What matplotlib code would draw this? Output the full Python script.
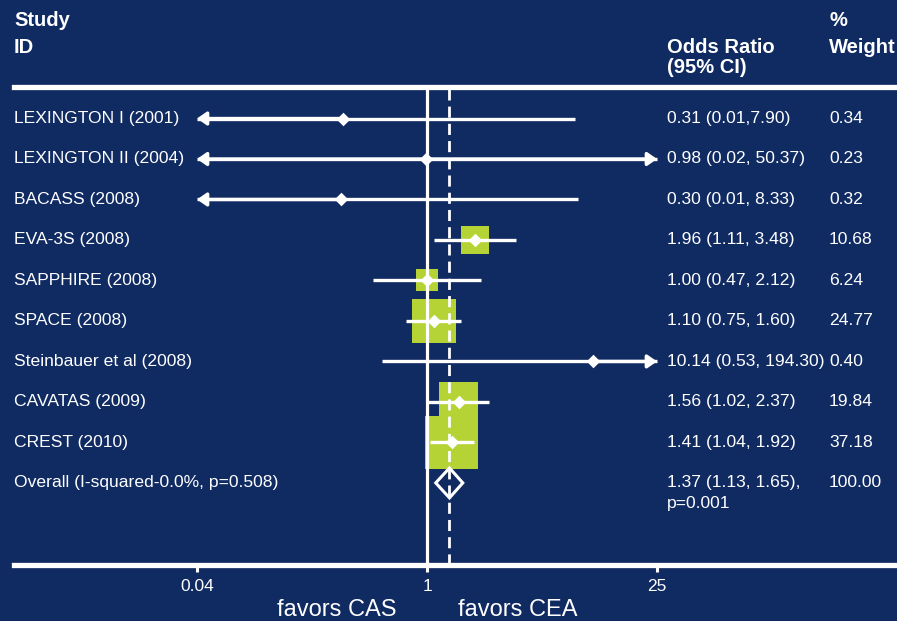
import numpy as np
import matplotlib
matplotlib.use("Agg")
import matplotlib.pyplot as plt
from matplotlib.patches import Polygon
from matplotlib.ticker import NullLocator
from matplotlib.transforms import blended_transform_factory

plt.rcParams["font.family"] = ["Liberation Sans", "DejaVu Sans"]

# ---- data ---------------------------------------------------------------
studies = ["LEXINGTON I (2001)", "LEXINGTON II (2004)", "BACASS (2008)",
           "EVA-3S (2008)", "SAPPHIRE (2008)", "SPACE (2008)",
           "Steinbauer et al (2008)", "CAVATAS (2009)", "CREST (2010)"]
odds_ratio = [0.31, 0.98, 0.30, 1.96, 1.00, 1.10, 10.14, 1.56, 1.41]
ci_low = [0.01, 0.02, 0.01, 1.11, 0.47, 0.75, 0.53, 1.02, 1.04]
ci_high = [7.90, 50.37, 8.33, 3.48, 2.12, 1.60, 194.30, 2.37, 1.92]
weights = [0.34, 0.23, 0.32, 10.68, 6.24, 24.77, 0.40, 19.84, 37.18]
ci_text = ["0.31 (0.01,7.90)", "0.98 (0.02, 50.37)", "0.30 (0.01, 8.33)",
           "1.96 (1.11, 3.48)", "1.00 (0.47, 2.12)", "1.10 (0.75, 1.60)",
           "10.14 (0.53, 194.30)", "1.56 (1.02, 2.37)", "1.41 (1.04, 1.92)"]
weight_text = ["0.34", "0.23", "0.32", "10.68", "6.24", "24.77",
               "0.40", "19.84", "37.18"]

overall_label = "Overall (I-squared-0.0%, p=0.508)"
overall_or, overall_lo, overall_hi = 1.37, 1.13, 1.65
overall_ci_text = "1.37 (1.13, 1.65),"
overall_p_text = "p=0.001"
overall_weight = "100.00"

x_ticks = [0.04, 1, 25]
x_tick_labels = ["0.04", "1", "25"]

# ---- style --------------------------------------------------------------
BG = "#102a62"
GREEN = "#b5d334"
WHITE = "white"
W, H = 897, 621

fig = plt.figure(figsize=(W / 100, H / 100), dpi=100, facecolor=BG)

# plot band between the header rule (y=87px) and the axis rule (y=565px)
top_px, bot_px, left_px = 87, 565, 14
ax = fig.add_axes([left_px / W, (H - bot_px) / H, (W - left_px) / W,
                   (bot_px - top_px) / H])
ax.set_facecolor(BG)
ax.set_xscale("log")
px_per_decade = 164.53
x_one_px = 427
ax.set_xlim(10 ** ((left_px - x_one_px) / px_per_decade),
            10 ** ((W - x_one_px) / px_per_decade))

row_spacing = 40.49
first_row_px = 118.5
ax.set_ylim((bot_px - first_row_px) / row_spacing,
            (top_px - first_row_px) / row_spacing)

rows = np.arange(len(studies))
overall_row = len(studies)
clip_lo, clip_hi = x_ticks[0], x_ticks[-1]

# reference lines
ax.axvline(1, color=WHITE, lw=2.3, zorder=2)
ax.axvline(overall_or, color=WHITE, lw=2.0, ls=(0, (4.0, 2.2)), zorder=2)

# weight boxes (area proportional to weight)
side_px = 8.8 * np.sqrt(np.array(weights))
ax.scatter(odds_ratio, rows, s=(side_px * 0.72) ** 2, marker="s",
           color=GREEN, linewidths=0, zorder=1)

# confidence intervals, with arrows where they run off the scale
arrow_props = dict(arrowstyle="-|>,head_length=0.4,head_width=0.28",
                   color=WHITE, lw=2.4, shrinkA=0, shrinkB=0,
                   mutation_scale=14)
for y, est, lo, hi in zip(rows, odds_ratio, ci_low, ci_high):
    lo_c, hi_c = max(lo, clip_lo), min(hi, clip_hi)
    ax.plot([lo_c, hi_c], [y, y], color=WHITE, lw=2.4,
            solid_capstyle="butt", zorder=3)
    if lo < clip_lo:
        ax.annotate("", xy=(clip_lo, y), xytext=(est, y),
                    arrowprops=arrow_props, zorder=3)
    if hi > clip_hi:
        ax.annotate("", xy=(clip_hi, y), xytext=(est, y),
                    arrowprops=arrow_props, zorder=3)

# point estimates
ax.scatter(odds_ratio, rows, s=48, marker="D", color=WHITE,
           linewidths=0, zorder=4)

# pooled estimate diamond
half_h = 0.37
ax.add_patch(Polygon([(overall_lo, overall_row),
                      (overall_or, overall_row - half_h),
                      (overall_hi, overall_row),
                      (overall_or, overall_row + half_h)],
                     closed=True, fill=False, edgecolor=WHITE, lw=2.2,
                     zorder=4))

# frame: only the two horizontal rules
for side in ("left", "right"):
    ax.spines[side].set_visible(False)
for side in ("top", "bottom"):
    ax.spines[side].set_color(WHITE)
    ax.spines[side].set_linewidth(3.8)

ax.set_xticks(x_ticks)
ax.set_xticklabels(x_tick_labels)
ax.xaxis.set_minor_locator(NullLocator())
ax.tick_params(axis="x", which="major", colors=WHITE, length=5, width=2.2,
               labelsize=12.5, pad=5, direction="out")
ax.set_yticks([])

# ---- text columns -------------------------------------------------------
tr = blended_transform_factory(fig.transFigure, ax.transData)
txt = dict(color=WHITE, fontsize=12.6, va="center", ha="left", transform=tr)
col_study, col_ci, col_w = 14 / W, 667 / W, 829 / W

for y, name, ct, wt in zip(rows, studies, ci_text, weight_text):
    ax.text(col_study, y, name, **txt)
    ax.text(col_ci, y, ct, **txt)
    ax.text(col_w, y, wt, **txt)

ax.text(col_study, overall_row, overall_label, **txt)
ax.text(col_ci, overall_row, overall_ci_text, **txt)
ax.text(col_ci, overall_row + 0.52, overall_p_text, **txt)
ax.text(col_w, overall_row, overall_weight, **txt)

hdr = dict(color=WHITE, fontsize=14.5, fontweight="bold", va="baseline",
           ha="left")
fig.text(col_study, 1 - 26 / H, "Study", **hdr)
fig.text(col_study, 1 - 53 / H, "ID", **hdr)
fig.text(col_ci, 1 - 53 / H, "Odds Ratio", **hdr)
fig.text(col_ci, 1 - 73 / H, "(95% CI)", **hdr)
fig.text(col_w, 1 - 26 / H, "%", **hdr)
fig.text(col_w, 1 - 53 / H, "Weight", **hdr)

side_lbl = dict(color=WHITE, fontsize=17, va="baseline", ha="center")
fig.text(337 / W, 1 - 616 / H, "favors CAS", **side_lbl)
fig.text(518 / W, 1 - 616 / H, "favors CEA", **side_lbl)

fig.savefig("out.png", dpi=100, facecolor=BG)
